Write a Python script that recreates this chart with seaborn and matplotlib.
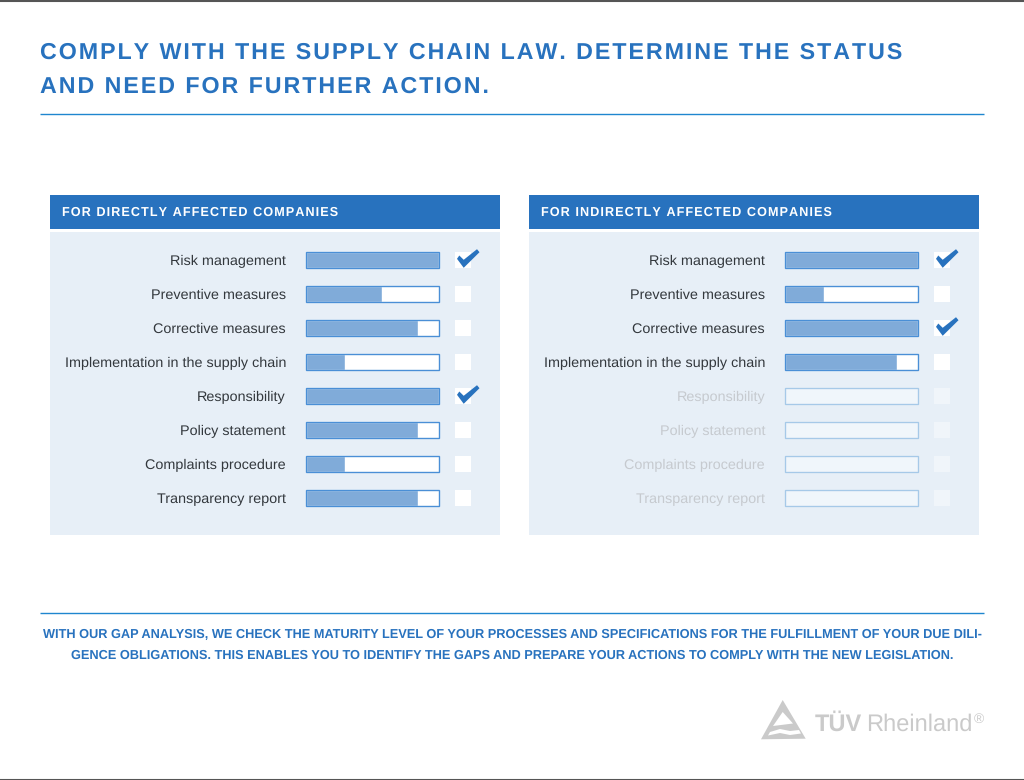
import pandas as pd
import seaborn as sns
import matplotlib.pyplot as plt
from matplotlib.path import Path
from matplotlib.patches import Rectangle, Polygon

W, H = 1024, 780
BLUE = '#2872be'
FILL = '#80abd9'
EDGE = '#4a8fd6'
FADE_EDGE = '#a6c9e8'
FADE_FILL = '#f0f6fb'
PANEL = '#e7eff7'
LOGO = '#cacaca'

tasks = ['Risk management', 'Preventive measures', 'Corrective measures',
         'Implementation in the supply chain', 'Responsibility',
         'Policy statement', 'Complaints procedure', 'Transparency report']
direct_vals = [100, 57, 84, 29, 100, 84, 29, 84]
direct_done = [1, 0, 0, 0, 1, 0, 0, 0]
direct_active = [1, 1, 1, 1, 1, 1, 1, 1]
indirect_vals = [100, 29, 100, 84, 0, 0, 0, 0]
indirect_done = [1, 0, 1, 0, 0, 0, 0, 0]
indirect_active = [1, 1, 1, 1, 0, 0, 0, 0]

title_lines = ['COMPLY WITH THE SUPPLY CHAIN LAW. DETERMINE THE STATUS',
               'AND NEED FOR FURTHER ACTION.']
footer_lines = ['WITH OUR GAP ANALYSIS, WE CHECK THE MATURITY LEVEL OF YOUR PROCESSES AND SPECIFICATIONS FOR THE FULFILLMENT OF YOUR DUE DILI-',
                'GENCE OBLIGATIONS. THIS ENABLES YOU TO IDENTIFY THE GAPS AND PREPARE YOUR ACTIONS TO COMPLY WITH THE NEW LEGISLATION.']

sns.set_theme(style='white')
plt.rcParams['font.family'] = ['Liberation Sans', 'DejaVu Sans']
plt.rcParams['text.hinting'] = 'no_hinting'


def track(s):
    # matplotlib has no letter spacing, hair spaces do the job
    return '\u200a'.join(s)


fig = plt.figure(figsize=(W / 100, H / 100), dpi=100, facecolor='white')
bg = fig.add_axes([0, 0, 1, 1])
bg.set_xlim(0, W)
bg.set_ylim(H, 0)
bg.axis('off')

# page rules
bg.hlines([0.5, 779.5], 0, W, color='#555555', lw=1.5)
bg.hlines([114, 613], 40, 984, color='#1f86cf', lw=1)

for i, line in enumerate(title_lines):
    bg.text(40, 52.5 + i * 34, track(line), color=BLUE, fontsize=16.78, fontweight='bold', va='center')
for i, line in enumerate(footer_lines):
    bg.text(512, 635 + i * 21, line, color=BLUE, fontsize=9.18, fontweight='bold', va='center', ha='center')

# logo
bg.add_patch(Polygon([(782.7, 700), (761, 739.3), (805.7, 738.7)], closed=True, fc=LOGO, ec='none'))
bg.add_patch(Polygon([(782.7, 712), (773, 726), (793, 723.5)], closed=True, fc='white', ec='none'))
bg.add_patch(Polygon([(770, 732), (780, 729), (790, 731), (799, 730), (801, 733.5), (790, 735), (780, 733), (768, 735.5)],
                     closed=True, fc='white', ec='none'))
bg.text(815, 725, 'TÜV', color=LOGO, fontsize=17, fontweight='bold', va='center')
bg.text(866, 725, 'Rheinland', color=LOGO, fontsize=17, va='center')
bg.text(974, 719, '®', color=LOGO, fontsize=10, va='center')

check = Path([(-11.5, -0.3), (-9.2, 3), (-4.8, -1.3), (8.5, 9.3), (11, 6.3), (-4.8, -9.3), (-11.5, -0.3)], closed=True)


def draw_panel(x0, header, vals, done, active):
    bg.add_patch(Rectangle((x0, 195), 450, 34, fc=BLUE, ec='none'))
    bg.add_patch(Rectangle((x0, 232), 450, 303, fc=PANEL, ec='none'))
    bg.text(x0 + 12, 213, track(header), color='white', fontsize=9.1, fontweight='bold', va='center')

    ax = fig.add_axes([(x0 + 256) / W, 1 - 535 / H, 133 / W, 303 / H], facecolor='none')
    df = pd.DataFrame({'task': tasks, 'value': vals, 'done': done, 'active': active, 'full': 100})
    on = df[df['active'] == 1]
    off = df[df['active'] == 0]
    sns.barplot(data=on, y='task', x='full', order=tasks, color='white', saturation=1, width=0.48, ax=ax)
    sns.barplot(data=on, y='task', x='value', order=tasks, color=FILL, saturation=1, width=0.48, ax=ax)
    sns.barplot(data=on, y='task', x='full', order=tasks, color=EDGE, fill=False, linewidth=1, width=0.48, ax=ax)
    if len(off):
        sns.barplot(data=off, y='task', x='full', order=tasks, color=FADE_FILL, saturation=1, width=0.48, ax=ax)
        sns.barplot(data=off, y='task', x='full', order=tasks, color=FADE_EDGE, fill=False, linewidth=1, width=0.48, ax=ax)
    for p in ax.patches:
        p.set_clip_on(False)

    ax.set_xlim(0, 100)
    ax.set_ylim(8.08, -0.83)
    ax.set_xlabel('')
    ax.set_ylabel('')
    ax.set_xticks([])
    sns.despine(ax=ax, left=True, bottom=True)
    ax.tick_params(axis='y', length=0, pad=14.4)
    for lab, a in zip(ax.get_yticklabels(), active):
        lab.set_color('#33383d' if a else '#c6cacf')
        lab.set_fontsize(10.4)

    # tick boxes and check marks
    ax.scatter([118] * len(on), on.index, marker='s', s=140, color='white', linewidths=0, clip_on=False)
    ax.scatter([118] * len(off), off.index, marker='s', s=140, color='#f0f5fa', linewidths=0, clip_on=False)
    ticked = df[df['done'] == 1]
    ax.scatter([121.5] * len(ticked), ticked.index - 0.07, marker=check, s=274, color=BLUE, linewidths=0, clip_on=False, zorder=5)


draw_panel(50, 'FOR DIRECTLY AFFECTED COMPANIES', direct_vals, direct_done, direct_active)
draw_panel(529, 'FOR INDIRECTLY AFFECTED COMPANIES', indirect_vals, indirect_done, indirect_active)

fig.savefig('out.png', dpi=100)
